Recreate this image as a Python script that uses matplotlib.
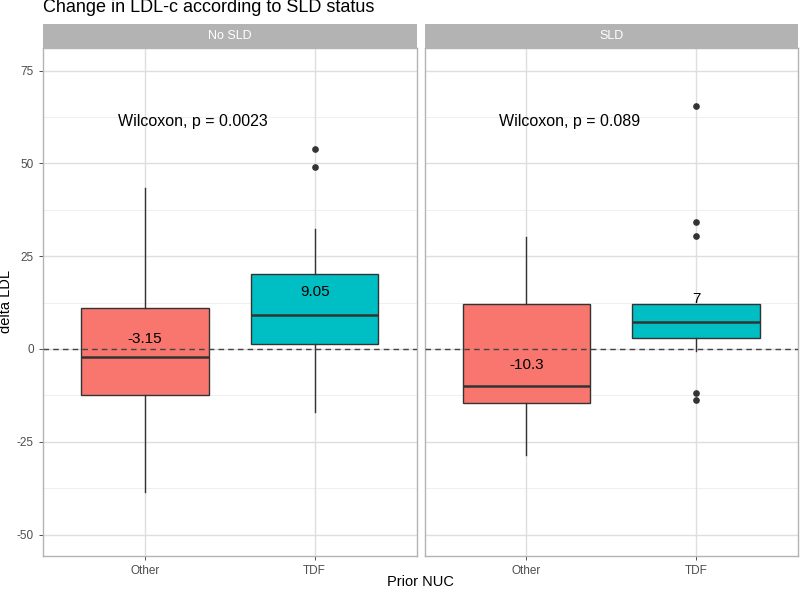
import matplotlib
matplotlib.use("Agg")
import matplotlib.pyplot as plt

plt.rcParams['font.family'] = ['Liberation Sans', 'DejaVu Sans']

panels = ["No SLD", "SLD"]
groups = ["Other", "TDF"]
colors = ["#F8766D", "#00BFC4"]

# box stats per panel: [Other, TDF]
q1 = {"No SLD": [-12.3, 1.4], "SLD": [-14.5, 3.0]}
med = {"No SLD": [-2.1, 9.25], "SLD": [-9.9, 7.4]}
q3 = {"No SLD": [11.0, 20.3], "SLD": [12.2, 12.1]}
whislo = {"No SLD": [-38.5, -16.9], "SLD": [-28.6, -0.5]}
whishi = {"No SLD": [43.3, 32.3], "SLD": [30.1, 12.1]}
outliers = {"No SLD": [[], [53.9, 49.0]],
            "SLD": [[], [65.5, 34.1, 30.5, -11.9, -13.7]]}
mean_labels = {"No SLD": ["-3.15", "9.05"], "SLD": ["-10.3", "7"]}
label_y = {"No SLD": [2.7, 15.3], "SLD": [-4.3, 13.5]}
pvals = {"No SLD": "Wilcoxon, p = 0.0023", "SLD": "Wilcoxon, p = 0.089"}
yticks = [-50, -25, 0, 25, 50, 75]

W, H = 800, 592
fig = plt.figure(figsize=(W / 100, H / 100), dpi=100)

panel_x = [(43, 416.5), (424.5, 798)]
top, bottom = 48, 555.7
strip_top = 24

for i, p in enumerate(panels):
    x0, x1 = panel_x[i]
    ax = fig.add_axes([x0 / W, 1 - bottom / H, (x1 - x0) / W, (bottom - top) / H])
    sax = fig.add_axes([x0 / W, 1 - top / H, (x1 - x0) / W, (top - strip_top) / H])
    sax.set_facecolor("#B3B3B3")
    sax.set_xticks([]); sax.set_yticks([])
    for s in sax.spines.values():
        s.set_visible(False)
    sax.text(0.5, 0.5, p, color="white", ha="center", va="center", fontsize=9,
             transform=sax.transAxes)

    ax.set_xlim(0.4, 2.6)
    ax.set_ylim(-55.7, 81.1)
    # grid
    for y in [-37.5, -12.5, 12.5, 37.5, 62.5]:
        ax.axhline(y, color="#EDEDED", lw=0.6, zorder=0)
    for y in yticks:
        ax.axhline(y, color="#DEDEDE", lw=1.0, zorder=0)
    for x in [1, 2]:
        ax.axvline(x, color="#DEDEDE", lw=1.0, zorder=0)

    stats = []
    for j, g in enumerate(groups):
        stats.append(dict(med=med[p][j], q1=q1[p][j], q3=q3[p][j],
                          whislo=whislo[p][j], whishi=whishi[p][j],
                          fliers=outliers[p][j], label=g))
    bp = ax.bxp(stats, positions=[1, 2], widths=0.75, patch_artist=True,
                showcaps=False,
                boxprops=dict(edgecolor="#333333", linewidth=1.0),
                medianprops=dict(color="#333333", linewidth=1.8),
                whiskerprops=dict(color="#333333", linewidth=1.0),
                flierprops=dict(marker="o", markerfacecolor="#333333",
                                markeredgecolor="#333333", markersize=3.8))
    for patch, c in zip(bp["boxes"], colors):
        patch.set_facecolor(c)
        patch.set_zorder(2)

    ax.axhline(0, color="#444444", lw=1.0, ls=(0, (4, 3)), zorder=3)

    for j in range(2):
        ax.text(j + 1, label_y[p][j], mean_labels[p][j], ha="center", va="center",
                fontsize=11, color="black", zorder=4)
    ax.text(0.84, 61.2, pvals[p], ha="left", va="center", fontsize=11.5, color="black")

    ax.set_xticks([1, 2])
    ax.set_xticklabels(groups, fontsize=8.5, color="#4D4D4D")
    ax.set_yticks(yticks)
    if i == 0:
        ax.set_yticklabels([str(t) for t in yticks], fontsize=8.5, color="#4D4D4D")
        ax.set_ylabel("delta LDL", fontsize=10.5, labelpad=3)
    else:
        ax.tick_params(axis="y", left=False, labelleft=False)
    ax.tick_params(axis="both", color="#333333", length=3, width=0.6)
    if i == 1:
        ax.tick_params(axis="y", length=0)
    for s in ax.spines.values():
        s.set_color("#B3B3B3")
        s.set_linewidth(1.0)

fig.text(((panel_x[0][0] + panel_x[1][1]) / 2) / W, 1 - 582 / H, "Prior NUC",
         ha="center", va="center", fontsize=10.5)
fig.text(43 / W, 1 - 8 / H, "Change in LDL-c according to SLD status",
         ha="left", va="center", fontsize=13)

fig.savefig("out.png", dpi=100)
